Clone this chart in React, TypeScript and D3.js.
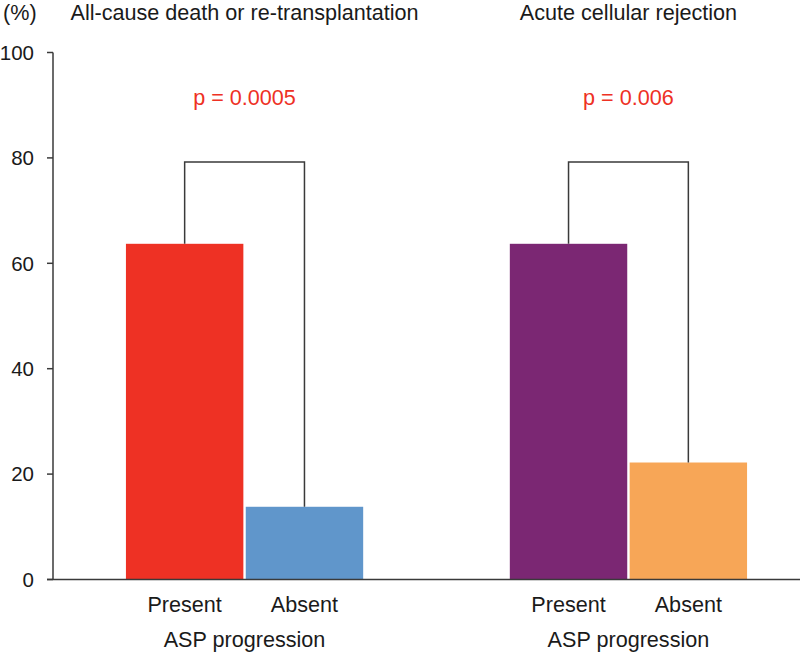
import React from "react";
import * as d3 from "d3";

const groups = ["All-cause death or re-transplantation", "Acute cellular rejection"];
const categories = ["Present", "Absent"];
const presentValues = [63.7, 63.7];
const absentValues = [13.8, 22.2];
const pValues = ["p = 0.0005", "p = 0.006"];
const bracketLevel = [79.2, 79.2];
const barColors = [
  ["#EE3124", "#6096CB"],
  ["#7B2773", "#F7A657"],
];
const yTicks = [0, 20, 40, 60, 80, 100];
const xAxisTitle = "ASP progression";
const yUnit = "(%)";

const W = 800;
const H = 653;
const axisX = 53;
const FS = 21.6;
const TICK_FS = 20.5;
const TOP_BASELINE = 19.8;
const FONT = "'Liberation Sans', Arial, Helvetica, sans-serif";

export default function App() {
  const y = d3.scaleLinear().domain([0, 100]).range([579.5, 52.5]);
  const outer = d3
    .scaleBand<string>()
    .domain(groups)
    .range([axisX, 820])
    .paddingInner(0.382)
    .paddingOuter(0.19);
  const inner = d3
    .scaleBand<string>()
    .domain(categories)
    .range([0, outer.bandwidth()])
    .paddingInner(0.02);

  const data = groups.map((g, i) => ({
    group: g,
    values: [presentValues[i], absentValues[i]],
    p: pValues[i],
    bracket: bracketLevel[i],
    colors: barColors[i],
  }));

  const stroke = "#3a3a3a";
  const textFill = "#1a1a1a";

  return (
    <svg
      width={W}
      height={H}
      style={{ position: "absolute", left: 0, top: 0, background: "#fff" }}
      fontFamily={FONT}
    >
      <rect x={0} y={0} width={W} height={H} fill="#fff" />
      {/* y axis */}
      <line x1={axisX} x2={axisX} y1={y(100)} y2={y(0)} stroke={stroke} strokeWidth={1.5} />
      {yTicks.map((t) => (
        <g key={t}>
          <line x1={axisX - 6} x2={axisX} y1={y(t)} y2={y(t)} stroke={stroke} strokeWidth={1.5} />
          <text x={34} y={y(t)} dy="0.36em" textAnchor="end" fontSize={TICK_FS} fill={textFill}>
            {t}
          </text>
        </g>
      ))}
      <text x={3} y={TOP_BASELINE} fontSize={FS} fill={textFill}>
        {yUnit}
      </text>
      {/* bars */}
      {data.map((d) => {
        const gx = outer(d.group) as number;
        const cx = gx + outer.bandwidth() / 2;
        const centers = categories.map((c) => gx + (inner(c) as number) + inner.bandwidth() / 2);
        return (
          <g key={d.group}>
            {categories.map((c, j) => (
              <rect
                key={c}
                x={gx + (inner(c) as number)}
                y={y(d.values[j])}
                width={inner.bandwidth()}
                height={y(0) - y(d.values[j])}
                fill={d.colors[j]}
              />
            ))}
            <path
              d={`M${centers[0]},${y(d.values[0])}V${y(d.bracket)}H${centers[1]}V${y(d.values[1])}`}
              fill="none"
              stroke={stroke}
              strokeWidth={1.5}
            />
            <text x={cx} y={TOP_BASELINE} textAnchor="middle" fontSize={FS} fill={textFill}>
              {d.group}
            </text>
            <text x={cx} y={105} textAnchor="middle" fontSize={FS} fill="#EE3124">
              {d.p}
            </text>
            {categories.map((c, j) => (
              <text key={c} x={centers[j]} y={612} textAnchor="middle" fontSize={FS} fill={textFill}>
                {c}
              </text>
            ))}
            <text x={cx} y={646.5} textAnchor="middle" fontSize={FS} fill={textFill}>
              {xAxisTitle}
            </text>
          </g>
        );
      })}
      {/* x axis */}
      <line x1={axisX - 6} x2={W} y1={y(0)} y2={y(0)} stroke={stroke} strokeWidth={1.5} />
    </svg>
  );
}
